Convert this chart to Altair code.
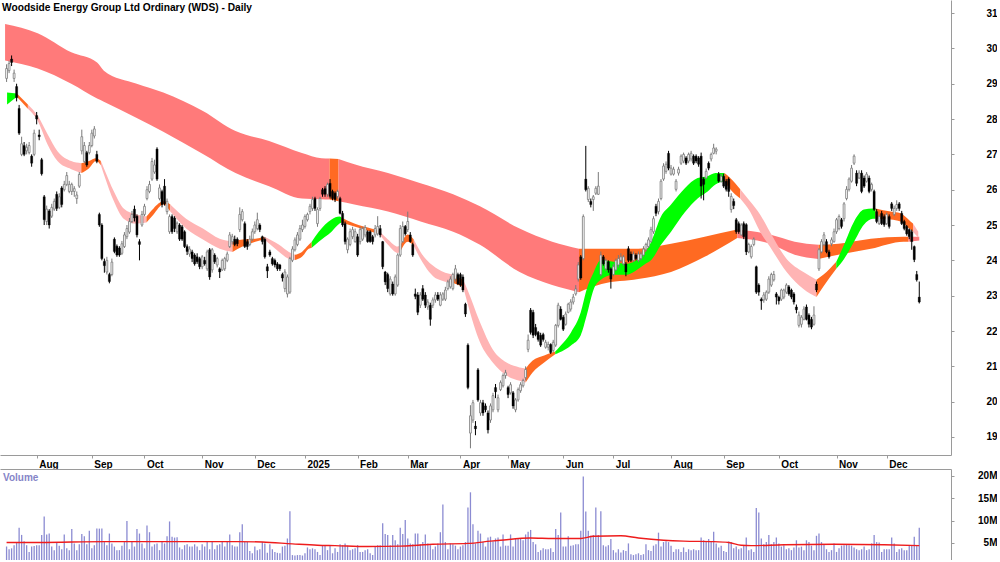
import altair as alt
import pandas as pd

TITLE = "Woodside Energy Group Ltd Ordinary (WDS) - Daily"
MONTH_TICKS = [12, 34, 55, 78, 99, 119, 140, 160, 181, 200, 222, 242, 265, 286, 308, 331, 351]
MONTH_LABELS = ["Aug", "Sep", "Oct", "Nov", "Dec", "2025", "Feb", "Mar", "Apr", "May", "Jun",
                "Jul", "Aug", "Sep", "Oct", "Nov", "Dec"]
PRICE_TICKS = [19, 20, 21, 22, 23, 24, 25, 26, 27, 28, 29, 30, 31]
VOL_TICKS = [5, 10, 15, 20]

OPEN = [
    29.15, 29.37, 29.70, 29.15, 28.92, 28.30, 27.00, 27.25, 27.10, 27.05,
    26.95, 27.00, 28.10, 27.55, 26.85, 25.80, 25.10, 25.40, 25.25, 25.45,
    25.87, 25.50, 26.05, 26.00, 26.15, 25.95, 25.95, 25.95, 25.75, 26.10,
    27.10, 26.80, 27.05, 27.05, 27.25, 27.52, 27.00, 25.30, 25.00, 23.97,
    23.67, 23.60, 23.60, 24.60, 24.40, 24.35, 24.20, 24.39, 24.67, 24.80,
    25.10, 25.45, 25.25, 24.53, 25.00, 25.30, 25.75, 25.95, 26.30, 26.50,
    27.15, 25.75, 25.95, 26.10, 25.38, 24.81, 25.24, 25.20, 24.81, 25.00,
    24.95, 24.81, 24.39, 24.18, 24.24, 24.15, 24.10, 24.05, 23.82, 24.00,
    23.76, 24.30, 23.73, 24.15, 23.87, 23.76, 23.73, 23.76, 24.00, 24.39,
    24.53, 24.60, 24.60, 24.87, 25.15, 25.04, 24.53, 24.45, 24.60, 24.81,
    24.90, 25.00, 24.67, 24.60, 23.82, 24.24, 24.05, 24.00, 23.90, 23.87,
    23.60, 23.20, 23.05, 23.10, 24.00, 24.30, 24.45, 24.60, 24.87, 24.96,
    25.15, 25.38, 25.47, 25.75, 25.04, 25.47, 26.00, 26.03, 25.87, 26.18,
    25.95, 25.90, 25.81, 25.75, 25.33, 25.04, 24.30, 24.45, 24.67, 24.53,
    24.67, 24.53, 24.60, 24.72, 24.81, 24.81, 24.67, 24.72, 24.75, 24.90,
    24.53, 23.67, 23.60, 23.05, 23.33, 23.05, 23.30, 24.15, 24.53, 24.96,
    24.87, 24.72, 24.45, 23.05, 23.02, 22.73, 23.20, 23.02, 22.68, 22.73,
    22.73, 22.88, 23.02, 22.73, 22.90, 22.90, 23.20, 23.25, 23.20, 23.47,
    23.60, 23.60, 23.53, 22.76, 21.60, 19.11, 19.48, 19.31, 20.90, 19.68,
    19.97, 19.88, 19.68, 19.48, 19.77, 20.40, 19.77, 20.34, 20.45, 20.74,
    20.40, 20.25, 20.25, 19.77, 20.05, 20.31, 20.45, 20.68, 21.48, 22.59,
    22.53, 22.10, 21.96, 21.88, 21.90, 21.54, 21.54, 21.62, 21.45, 21.60,
    22.16, 22.62, 22.39, 22.19, 22.53, 22.62, 22.82, 23.05, 23.47, 24.10,
    24.05, 26.30, 25.72, 25.67, 25.72, 25.90, 25.87, 23.60, 24.10, 23.76,
    23.96, 23.76, 23.60, 23.73, 23.87, 24.00, 23.90, 23.90, 24.33, 24.18,
    24.00, 24.15, 24.00, 24.05, 24.15, 24.30, 24.39, 24.53, 24.81, 25.53,
    25.38, 25.75, 26.30, 26.52, 27.03, 26.44, 26.44, 26.01, 26.47, 26.75,
    26.81, 26.90, 26.81, 26.87, 26.95, 26.95, 26.90, 26.95, 26.30, 26.33,
    26.75, 26.87, 27.03, 27.09, 26.44, 26.24, 26.38, 26.24, 26.30, 25.44,
    25.67, 25.15, 25.04, 24.72, 25.04, 25.01, 24.24, 24.10, 24.45, 23.82,
    23.30, 22.90, 22.88, 22.90, 23.10, 23.30, 23.45, 23.05, 22.96, 22.90,
    22.96, 23.10, 23.25, 23.16, 23.05, 22.68, 22.16, 22.19, 22.33, 22.68,
    22.45, 22.33, 22.19, 23.33, 23.76, 24.24, 24.45, 24.53, 24.24, 24.47,
    24.53, 24.81, 24.90, 25.15, 25.18, 25.75, 26.01, 26.24, 26.75, 26.47,
    26.33, 26.47, 26.33, 26.24, 26.33, 26.01, 25.95, 25.38, 25.04, 25.33,
    25.24, 25.04, 25.24, 25.60, 25.30, 25.47, 25.60, 25.33, 25.10, 24.96,
    24.87, 24.81, 24.39, 23.60, 22.96,
]
CLOSE = [
    29.43, 29.57, 29.60, 29.30, 28.60, 27.60, 27.30, 27.00, 27.20, 27.25,
    26.75, 27.60, 28.00, 27.50, 26.45, 25.15, 25.45, 25.00, 25.50, 25.67,
    25.47, 25.80, 25.58, 26.15, 26.40, 26.15, 26.15, 26.03, 25.85, 26.43,
    27.50, 27.25, 26.70, 27.25, 27.60, 27.72, 26.80, 25.00, 24.05, 23.85,
    24.00, 23.40, 23.95, 24.25, 24.15, 24.15, 24.47, 24.72, 24.90, 25.10,
    25.30, 25.20, 24.72, 24.45, 25.30, 25.53, 26.00, 26.15, 26.80, 26.70,
    26.30, 26.05, 25.58, 25.60, 25.67, 25.24, 24.81, 24.90, 25.05, 24.60,
    24.60, 24.39, 24.25, 24.32, 24.05, 23.90, 23.96, 23.82, 24.10, 23.90,
    24.24, 23.53, 24.30, 23.96, 24.05, 23.67, 24.00, 24.05, 24.18, 24.72,
    24.67, 24.45, 24.47, 25.30, 25.38, 24.39, 24.39, 24.60, 24.81, 25.00,
    25.15, 24.87, 24.53, 24.10, 23.70, 24.15, 23.90, 23.87, 23.76, 23.76,
    23.50, 23.67, 23.53, 24.05, 24.32, 24.58, 24.72, 24.90, 25.00, 25.24,
    25.30, 25.53, 25.72, 25.47, 25.44, 25.75, 25.87, 25.87, 26.15, 25.81,
    25.75, 25.72, 25.95, 25.33, 25.00, 24.53, 24.60, 24.81, 24.87, 24.81,
    24.15, 24.87, 24.90, 24.93, 24.53, 24.53, 24.53, 24.90, 24.96, 24.72,
    23.82, 23.39, 23.20, 23.47, 23.05, 23.53, 24.15, 24.90, 24.96, 24.75,
    25.10, 24.53, 24.15, 22.98, 22.53, 23.02, 22.90, 22.73, 22.82, 22.33,
    22.88, 23.02, 22.90, 23.02, 23.05, 23.16, 23.39, 23.47, 23.60, 23.76,
    23.33, 23.30, 23.16, 22.48, 20.40, 19.60, 19.97, 19.23, 20.05, 19.97,
    19.68, 19.77, 19.20, 19.88, 20.17, 20.28, 20.11, 20.54, 20.74, 20.82,
    20.20, 20.48, 19.88, 20.05, 20.34, 20.48, 20.60, 20.91, 21.74, 21.96,
    21.88, 21.90, 21.76, 21.60, 21.76, 21.68, 21.62, 21.39, 21.68, 22.16,
    22.73, 22.33, 22.05, 22.48, 22.76, 22.82, 22.96, 23.19, 23.87, 23.50,
    25.24, 26.00, 26.04, 25.58, 25.80, 26.04, 26.10, 24.15, 23.90, 24.00,
    23.73, 23.47, 23.82, 24.00, 24.05, 24.10, 24.10, 23.67, 24.00, 24.00,
    24.18, 24.05, 24.18, 24.18, 24.32, 24.45, 24.58, 24.87, 25.18, 25.33,
    25.67, 26.24, 26.67, 26.72, 26.61, 26.61, 26.58, 26.24, 26.58, 26.95,
    27.00, 26.75, 27.00, 27.03, 26.75, 26.81, 26.72, 26.10, 26.15, 26.52,
    26.61, 27.00, 27.18, 27.15, 26.24, 26.38, 26.10, 26.01, 25.95, 25.81,
    25.55, 24.81, 24.81, 25.00, 24.67, 24.24, 24.45, 24.39, 24.60, 23.10,
    23.10, 22.85, 23.02, 23.10, 23.47, 23.60, 23.60, 22.96, 22.85, 23.16,
    23.16, 23.30, 23.05, 22.96, 22.82, 22.60, 22.45, 22.39, 22.62, 22.33,
    22.19, 22.11, 22.45, 23.16, 24.30, 24.53, 24.72, 24.24, 24.10, 24.58,
    24.81, 25.15, 25.24, 24.96, 25.60, 26.01, 26.30, 26.61, 26.95, 26.18,
    26.47, 25.95, 26.10, 26.44, 25.95, 26.15, 25.44, 25.10, 25.24, 25.04,
    25.01, 25.30, 24.96, 25.47, 25.47, 25.58, 25.47, 25.04, 24.90, 24.75,
    24.67, 24.53, 24.02, 23.45, 22.82,
]
HIGH = [
    29.55, 29.65, 29.80, 29.40, 29.00, 28.40, 27.50, 27.35, 27.30, 27.35,
    27.00, 27.70, 28.20, 27.70, 26.90, 25.85, 25.55, 25.45, 25.60, 25.75,
    25.95, 25.90, 26.10, 26.25, 26.50, 26.25, 26.20, 26.10, 25.95, 26.50,
    27.70, 27.35, 27.10, 27.35, 27.70, 27.80, 27.10, 25.35, 25.05, 24.05,
    24.10, 23.65, 24.05, 24.65, 24.45, 24.40, 24.55, 24.80, 25.00, 25.20,
    25.40, 25.55, 25.30, 24.60, 25.40, 25.60, 26.10, 26.25, 26.90, 26.85,
    27.20, 26.15, 26.00, 26.30, 25.75, 25.30, 25.30, 25.25, 25.10, 25.05,
    25.00, 24.85, 24.45, 24.40, 24.30, 24.20, 24.20, 24.10, 24.15, 24.10,
    24.30, 24.35, 24.35, 24.20, 24.10, 23.80, 24.05, 24.10, 24.25, 24.80,
    24.75, 24.70, 24.65, 25.50, 25.45, 25.10, 24.60, 24.70, 24.90, 25.10,
    25.35, 25.05, 24.70, 24.65, 23.90, 24.30, 24.10, 24.05, 23.95, 23.90,
    23.65, 23.75, 23.60, 24.10, 24.40, 24.65, 24.80, 25.00, 25.15, 25.30,
    25.35, 25.60, 25.80, 25.80, 25.50, 25.80, 26.05, 26.10, 26.20, 26.30,
    26.00, 25.95, 26.00, 25.80, 25.40, 25.10, 24.65, 24.90, 24.95, 24.90,
    24.75, 24.95, 24.95, 25.00, 24.85, 24.85, 24.72, 25.00, 25.25, 25.00,
    24.55, 23.70, 23.65, 23.55, 23.40, 23.60, 24.20, 25.00, 25.10, 25.00,
    25.38, 24.80, 24.50, 23.20, 23.10, 23.10, 23.30, 23.10, 22.90, 22.80,
    22.95, 23.10, 23.10, 23.10, 23.10, 23.25, 23.45, 23.55, 23.65, 23.87,
    23.65, 23.65, 23.60, 22.80, 21.65, 19.90, 20.05, 19.45, 20.95, 20.05,
    20.05, 19.95, 19.75, 19.95, 20.25, 20.50, 20.20, 20.60, 20.80, 20.90,
    20.45, 20.55, 20.30, 20.10, 20.40, 20.55, 20.65, 21.00, 21.90, 22.65,
    22.60, 22.20, 22.00, 21.95, 21.95, 21.75, 21.70, 21.65, 21.75, 22.20,
    22.80, 22.70, 22.45, 22.55, 22.80, 22.90, 23.05, 23.30, 23.95, 24.15,
    25.30, 27.24, 26.10, 25.75, 25.85, 26.10, 26.50, 24.25, 24.15, 24.05,
    24.00, 23.80, 23.90, 24.05, 24.15, 24.20, 24.15, 23.95, 24.40, 24.25,
    24.25, 24.20, 24.25, 24.25, 24.40, 24.50, 24.65, 24.95, 25.25, 25.60,
    25.75, 26.30, 26.75, 26.80, 27.10, 26.70, 26.65, 26.30, 26.65, 27.00,
    27.05, 26.95, 27.05, 27.10, 27.00, 27.00, 26.95, 27.05, 26.35, 26.60,
    26.80, 27.05, 27.30, 27.20, 26.50, 26.45, 26.45, 26.30, 26.35, 25.90,
    25.75, 25.20, 25.10, 25.05, 25.10, 25.05, 24.50, 24.45, 24.65, 23.85,
    23.35, 22.95, 23.10, 23.15, 23.55, 23.65, 23.70, 23.10, 23.00, 23.20,
    23.20, 23.35, 23.30, 23.20, 23.10, 22.75, 22.55, 22.45, 22.70, 22.75,
    22.50, 22.40, 22.70, 23.40, 24.35, 24.60, 24.80, 24.60, 24.30, 24.65,
    24.90, 25.20, 25.30, 25.20, 25.65, 26.10, 26.35, 26.70, 27.00, 26.55,
    26.55, 26.55, 26.40, 26.50, 26.40, 26.20, 26.00, 25.45, 25.30, 25.40,
    25.30, 25.35, 25.30, 25.65, 25.55, 25.70, 25.65, 25.40, 25.15, 25.00,
    24.90, 24.87, 24.42, 23.70, 23.40,
]
LOW = [
    29.05, 29.30, 29.50, 29.05, 28.50, 27.55, 26.95, 26.95, 27.00, 27.00,
    26.65, 26.95, 27.85, 27.40, 26.40, 25.00, 25.00, 24.90, 25.20, 25.40,
    25.40, 25.45, 25.50, 25.95, 26.10, 25.90, 25.85, 25.80, 25.60, 26.05,
    27.00, 26.75, 26.65, 27.00, 27.20, 27.45, 26.75, 24.95, 24.00, 23.65,
    23.60, 23.35, 23.55, 24.20, 24.10, 24.10, 24.15, 24.35, 24.60, 24.75,
    25.05, 25.10, 24.65, 24.00, 24.95, 25.25, 25.70, 25.90, 26.25, 26.45,
    26.25, 25.70, 25.50, 25.55, 25.30, 24.75, 24.75, 24.80, 24.75, 24.55,
    24.55, 24.35, 24.15, 24.10, 23.95, 23.85, 23.90, 23.75, 23.75, 23.85,
    23.70, 23.45, 23.65, 23.90, 23.80, 23.50, 23.70, 23.70, 23.95, 24.35,
    24.45, 24.40, 24.40, 24.80, 25.10, 24.35, 24.30, 24.40, 24.55, 24.75,
    24.85, 24.80, 24.45, 24.05, 23.50, 24.10, 23.85, 23.80, 23.70, 23.70,
    23.40, 23.10, 22.95, 23.05, 23.95, 24.25, 24.40, 24.55, 24.80, 24.90,
    25.10, 25.30, 25.40, 25.40, 24.95, 25.40, 25.80, 25.80, 25.80, 25.75,
    25.70, 25.65, 25.75, 25.30, 24.95, 24.45, 24.20, 24.40, 24.60, 24.50,
    24.10, 24.45, 24.55, 24.65, 24.50, 24.50, 24.45, 24.65, 24.70, 24.65,
    23.75, 23.30, 23.10, 23.00, 23.00, 23.00, 23.25, 24.10, 24.50, 24.70,
    24.80, 24.50, 24.10, 22.90, 22.45, 22.65, 22.85, 22.65, 22.60, 22.15,
    22.65, 22.80, 22.85, 22.70, 22.85, 22.85, 23.15, 23.20, 23.15, 23.40,
    23.30, 23.25, 23.10, 22.40, 20.35, 18.68, 19.40, 19.05, 20.00, 19.60,
    19.60, 19.70, 19.10, 19.40, 19.70, 20.10, 19.70, 20.30, 20.40, 20.65,
    20.10, 20.20, 19.80, 19.70, 20.00, 20.25, 20.40, 20.60, 21.40, 21.90,
    21.80, 21.85, 21.70, 21.55, 21.70, 21.50, 21.45, 21.35, 21.40, 21.55,
    22.10, 22.30, 22.00, 22.15, 22.50, 22.55, 22.75, 23.00, 23.40, 23.45,
    24.00, 25.95, 25.65, 25.50, 25.40, 25.85, 25.85, 23.55, 23.85, 23.70,
    23.65, 23.20, 23.55, 23.70, 23.80, 23.95, 23.85, 23.55, 23.95, 23.95,
    23.95, 24.00, 23.95, 24.00, 24.10, 24.25, 24.35, 24.50, 24.75, 25.25,
    25.30, 25.70, 26.25, 26.45, 26.55, 26.40, 26.40, 25.95, 26.40, 26.70,
    26.75, 26.70, 26.75, 26.80, 26.70, 26.75, 26.65, 25.75, 25.70, 26.30,
    26.55, 26.80, 27.00, 27.00, 26.20, 26.20, 26.05, 25.95, 25.80, 25.35,
    25.45, 24.75, 24.75, 24.70, 24.60, 24.15, 24.20, 24.05, 24.40, 23.05,
    23.00, 22.60, 22.80, 22.85, 23.05, 23.25, 23.40, 22.75, 22.75, 22.85,
    22.90, 23.05, 23.00, 22.90, 22.75, 22.50, 22.10, 22.10, 22.30, 22.30,
    22.10, 22.05, 22.15, 23.10, 23.70, 24.20, 24.40, 24.20, 24.05, 24.40,
    24.50, 24.75, 24.85, 24.90, 25.10, 25.70, 25.95, 26.20, 26.70, 26.10,
    26.30, 25.90, 26.05, 26.20, 25.90, 25.95, 25.40, 25.05, 25.00, 25.00,
    24.95, 25.00, 24.90, 25.40, 25.25, 25.40, 25.40, 25.00, 24.85, 24.70,
    24.60, 24.30, 23.95, 23.40, 22.78,
]
# Daily volume, millions of shares
VOLUME = [
    4.2, 3.6, 3.8, 4.5, 5.2, 8.4, 6.8, 5.4, 4.5, 3.0,
    4.2, 4.3, 4.5, 4.5, 6.8, 10.9, 6.9, 7.1, 4.2, 3.4,
    5.2, 4.4, 3.6, 6.9, 3.8, 3.4, 8.1, 4.9, 3.4, 4.7,
    7.0, 6.5, 4.7, 7.7, 3.8, 4.5, 8.2, 8.2, 8.2, 5.2,
    4.5, 7.1, 4.9, 4.2, 3.4, 3.4, 4.4, 5.2, 9.9, 3.6,
    5.2, 4.2, 8.1, 7.1, 4.9, 3.8, 8.9, 7.4, 4.2, 4.7,
    4.9, 3.4, 5.2, 4.9, 6.5, 9.8, 6.4, 6.2, 6.3, 4.0,
    3.6, 4.5, 4.7, 4.2, 4.2, 4.7, 4.2, 3.4, 4.7, 4.2,
    5.4, 3.6, 5.4, 3.6, 4.5, 4.7, 5.4, 4.2, 5.4, 6.9,
    4.5, 4.2, 4.2, 7.4, 9.2, 5.2, 5.2, 3.2, 2.7, 4.2,
    3.4, 3.6, 5.2, 4.9, 2.8, 4.7, 3.6, 3.0, 2.8, 2.7,
    4.2, 4.4, 6.0, 12.1, 2.3, 2.2, 2.3, 2.3, 2.2, 2.7,
    4.0, 3.6, 3.8, 3.6, 3.0, 2.3, 4.4, 4.4, 3.4, 4.4,
    2.7, 3.8, 3.0, 4.7, 4.5, 4.9, 4.4, 3.4, 3.6, 3.8,
    4.5, 3.0, 3.0, 3.4, 3.6, 2.7, 2.3, 4.2, 4.5, 4.5,
    9.4, 7.0, 6.8, 4.5, 6.8, 5.6, 4.7, 8.4, 7.0, 10.1,
    6.0, 4.9, 4.7, 7.1, 7.1, 4.7, 5.2, 6.9, 4.9, 4.5,
    3.6, 4.2, 4.9, 7.4, 13.6, 5.2, 3.6, 4.9, 4.7, 4.4,
    3.6, 4.2, 4.5, 5.2, 12.9, 16.3, 9.2, 4.9, 7.7, 7.1,
    5.2, 4.2, 6.2, 6.4, 5.4, 6.0, 6.2, 4.2, 6.9, 4.4,
    4.4, 6.9, 4.2, 6.0, 6.0, 6.0, 5.6, 6.9, 7.5, 7.9,
    5.2, 4.7, 3.0, 3.4, 3.8, 3.6, 3.6, 3.8, 3.0, 8.1,
    6.8, 11.8, 4.2, 4.2, 6.5, 4.4, 4.5, 4.7, 4.7, 7.7,
    19.8, 12.0, 7.7, 6.6, 6.8, 12.9, 6.8, 12.1, 4.5, 4.2,
    4.5, 5.9, 3.4, 2.9, 3.6, 2.9, 3.4, 3.2, 4.9, 2.5,
    2.3, 2.5, 2.7, 2.3, 2.5, 4.7, 3.4, 3.2, 4.4, 4.7,
    7.3, 4.2, 5.2, 5.4, 5.2, 4.4, 3.0, 3.6, 3.6, 3.0,
    4.0, 3.0, 3.6, 3.4, 3.6, 3.4, 3.4, 6.2, 5.6, 5.4,
    5.9, 5.2, 7.5, 4.9, 4.0, 4.4, 3.2, 3.0, 5.3, 5.2,
    3.8, 4.2, 3.6, 3.8, 4.4, 6.2, 3.4, 3.6, 3.0, 12.8,
    11.8, 6.0, 4.7, 5.2, 6.8, 4.7, 5.2, 6.2, 4.9, 4.2,
    4.5, 3.6, 3.8, 3.4, 4.0, 5.6, 4.0, 4.2, 3.4, 5.6,
    5.2, 4.4, 3.4, 6.6, 7.1, 5.2, 4.7, 3.6, 3.0, 3.4,
    4.9, 3.0, 3.8, 4.4, 4.5, 4.7, 4.5, 4.4, 4.0, 3.6,
    3.4, 3.6, 4.2, 3.4, 3.6, 4.9, 6.8, 5.2, 5.1, 3.0,
    3.6, 3.6, 3.6, 6.2, 4.9, 3.0, 3.6, 3.8, 3.4, 3.4,
    4.4, 4.5, 6.4, 4.5, 8.4,
]
VOL_MA_X = [0, 13, 39, 65, 92, 102, 114, 124, 131, 144, 157, 164, 170, 184, 193, 197,
            209, 218, 229, 234, 245, 252, 262, 270, 282, 288, 293, 297, 310, 330, 350, 364]
VOL_MA = [5.1, 5.1, 5.3, 5.3, 5.3, 5.2, 4.8, 4.5, 4.4, 4.2, 4.3, 4.5, 4.7, 4.9, 5.4, 5.6,
          6.1, 6.0, 6.0, 6.5, 6.6, 6.1, 5.6, 5.4, 5.3, 5.1, 4.5, 4.4, 4.6, 4.7, 4.6, 4.4]

# Long-term moving-average ribbon (edges)
LONG_X = [-0.6, 12.4, 25.8, 36.1, 38.8, 51.9, 62.5, 78.3, 91.3, 104.7, 117.8, 125.6,
          128.8, 132.4, 138.7, 152.1, 165.1, 178.1, 188.8, 204.6, 217.6, 228.3, 237.3,
          251.9, 265.0, 278.4, 291.4, 304.4, 314.3, 323.8, 331.7, 344.7, 357.7, 359.7, 364.0]
LONG_TOP = [30.69, 30.43, 29.89, 29.60, 29.37, 29.00, 28.75, 28.23, 27.66, 27.38, 27.04, 26.89,
            26.88, 26.87, 26.72, 26.47, 26.18, 25.87, 25.53, 24.90, 24.53, 24.33, 24.33,
            24.33, 24.47, 24.67, 24.87, 24.73, 24.53, 24.44, 24.47, 24.61, 24.67, 24.67, 24.67]
LONG_BOT = [29.66, 29.43, 29.00, 28.58, 28.49, 28.03, 27.64, 27.01, 26.47, 26.10, 25.75, 25.73,
            25.72, 25.67, 25.58, 25.38, 25.10, 24.81, 24.44, 23.67, 23.30, 23.10, 23.33,
            23.47, 23.67, 24.10, 24.63, 24.47, 24.16, 24.04, 24.16, 24.33, 24.53, 24.53, 24.56]
LONG_BREAK_AT = [-0.6, 128.8, 132.4, 228.3, 291.4, 323.8, 359.7]
LONG_BREAK_STATE = ["down", "mix", "down", "mix", "down", "mix", "down"]

# Short-term moving-average ribbon
SHORT_X = [0.2, 4.1, 8.5, 12.4, 16.3, 20.3, 25.8, 29.8, 32.9, 35.7, 37.6, 38.8, 42.8, 46.7,
           51.9, 55.8, 58.6, 62.5, 65.3, 71.6, 78.3, 85.0, 90.1, 94.1, 99.2, 102.8, 108.7,
           112.6, 115.0, 117.8, 120.5, 121.7, 124.5, 129.6, 132.8, 133.5, 138.7, 145.4, 148.5,
           152.1, 156.0, 157.2, 160.0, 162.4, 165.1, 171.8, 178.1, 182.1, 183.7, 188.8, 193.9,
           199.4, 204.6, 207.0, 209.7, 214.4, 218.8, 220.4, 225.1, 229.0, 231.4, 234.2, 237.0,
           242.1, 246.8, 254.7, 257.1, 261.0, 265.0, 270.5, 275.6, 279.6, 282.7, 286.3, 288.6,
           292.6, 296.5, 300.5, 304.4, 311.1, 317.8, 323.0, 325.7, 330.9, 334.0, 338.0, 341.9,
           345.5, 346.6, 352.6, 356.5, 360.5, 361.5, 363.6]
SHORT_TOP = [28.75, 28.72, 28.41, 28.09, 27.58, 27.09, 26.81, 26.75, 26.81, 26.89, 26.81, 26.61,
             25.95, 25.47, 25.30, 25.24, 25.47, 25.67, 25.58, 25.18, 24.90, 24.61, 24.53, 24.59,
             24.61, 24.67, 24.44, 24.24, 24.16, 24.24, 24.44, 24.53, 24.81, 25.16, 25.24, 25.21,
             25.04, 24.90, 24.84, 24.59, 24.39, 24.44, 24.73, 24.59, 24.24, 23.76, 23.59, 23.45,
             23.19, 22.25, 21.48, 21.11, 20.97, 20.94, 21.16, 21.31, 21.42, 21.54, 21.96, 22.53,
             23.19, 23.67, 24.01, 23.96, 23.90, 24.24, 24.53, 25.24, 25.58, 26.04, 26.33, 26.38,
             26.47, 26.47, 26.33, 26.01, 25.67, 25.30, 24.81, 24.04, 23.67, 23.45, 23.59, 23.96,
             24.44, 25.10, 25.44, 25.47, 25.47, 25.38, 25.33, 25.10, 25.04, 24.81]
SHORT_BOT = [28.41, 28.63, 28.29, 27.95, 27.29, 26.81, 26.58, 26.47, 26.61, 26.81, 26.69, 26.44,
             25.67, 25.18, 25.04, 25.07, 25.30, 25.58, 25.38, 24.90, 24.59, 24.33, 24.24, 24.39,
             24.53, 24.59, 24.24, 24.04, 24.01, 24.10, 24.33, 24.36, 24.53, 24.81, 25.04, 25.07,
             24.96, 24.81, 24.76, 24.44, 24.21, 24.27, 24.53, 24.41, 24.04, 23.47, 23.36, 23.25,
             22.82, 21.68, 21.11, 20.74, 20.59, 20.54, 20.82, 21.11, 21.34, 21.39, 21.59, 21.88,
             22.45, 23.19, 23.45, 23.59, 23.59, 23.90, 24.01, 24.44, 24.81, 25.36, 25.75, 25.95,
             26.15, 26.24, 26.01, 25.75, 25.38, 24.81, 24.39, 23.67, 23.19, 22.96, 23.25, 23.76,
             24.04, 24.53, 25.01, 25.18, 25.18, 25.16, 25.10, 24.87, 24.81, 24.64]
SHORT_BREAK_AT = [0.2, 4.1, 8.5, 29.8, 37.6, 55.8, 65.3, 90.1, 102.8, 115.0, 121.7, 133.5,
                  148.5, 157.2, 162.4, 178.1, 182.1, 207.0, 218.8, 286.3, 292.6, 323.0,
                  330.9, 346.6, 361.5]
SHORT_BREAK_STATE = ["up", "mix", "down", "mix", "down", "mix", "down", "mix", "down", "mix",
                     "up", "mix", "down", "mix", "down", "mix", "down", "mix", "up", "mix",
                     "down", "mix", "up", "mix", "down"]

X_MIN, X_MAX = -0.63, 374.66
P_MIN, P_MAX = 18.49, 31.37
V_MIN, V_MAX = 1.2, 21.5
FONT = "Liberation Sans"
GRAY = "#9a9a9a"
BAND_STATES = ["L-down", "L-mix", "S-down", "S-mix", "S-up"]
BAND_COLORS = ["#ff7a7a", "#ff6a22", "#ffb4b4", "#ff6a22", "#00ff00"]


def build_band(xs, tops, bots, break_at, break_state, prefix):
    rows = []
    ends = list(break_at[1:]) + [xs[-1]]
    for k, (start, end, state) in enumerate(zip(break_at, ends, break_state)):
        for x, t, b in zip(xs, tops, bots):
            if start - 1e-9 <= x <= end + 1e-9:
                rows.append({"i": x, "top": t, "bot": b, "seg": f"{prefix}{k}",
                             "state": f"{prefix}-{state}"})
    return rows


band_rows = build_band(LONG_X, LONG_TOP, LONG_BOT, LONG_BREAK_AT, LONG_BREAK_STATE, "L")
band_rows += build_band(SHORT_X, SHORT_TOP, SHORT_BOT, SHORT_BREAK_AT, SHORT_BREAK_STATE, "S")
band_df = pd.DataFrame(band_rows)

candles = pd.DataFrame({"i": list(range(len(CLOSE))), "o": OPEN, "h": HIGH, "l": LOW, "c": CLOSE})
candles["dir"] = ["up" if c >= o else "down" for o, c in zip(OPEN, CLOSE)]
vol_df = pd.DataFrame({"i": list(range(len(VOLUME))), "v": VOLUME})
vma_df = pd.DataFrame({"i": VOL_MA_X, "v": VOL_MA})

label_expr = "[" + ",".join(f"'{m}'" for m in MONTH_LABELS) + "][indexof([" + \
    ",".join(str(t) for t in MONTH_TICKS) + "], datum.value)]"

xscale = alt.Scale(domain=[X_MIN, X_MAX], nice=False, zero=False)
x_axis = alt.Axis(values=MONTH_TICKS, labelExpr=label_expr, labelAlign="left", labelOffset=2,
                  labelBaseline="top", labelPadding=1, labelFlush=False, labelOverlap=False,
                  tickSize=3, tickColor=GRAY, domainColor=GRAY, grid=False, title=None)
X = alt.X("i:Q", scale=xscale, axis=x_axis)

pscale = alt.Scale(domain=[P_MIN, P_MAX], nice=False, zero=False)
p_axis = alt.Axis(orient="right", values=PRICE_TICKS, labelAlign="right", labelPadding=43,
                  labelOverlap=False, labelFlush=False, tickSize=3, tickColor=GRAY,
                  domainColor=GRAY, grid=False, title=None)


def band_layer(prefix):
    # one area per coloured segment; long ribbon first, short ribbon drawn over it
    return alt.Chart(band_df).transform_filter(
        f"indexof(datum.seg, '{prefix}') == 0"
    ).mark_area(interpolate="monotone", clip=True).encode(
        x=X,
        y=alt.Y("top:Q", scale=pscale, axis=p_axis),
        y2="bot:Q",
        color=alt.Color("state:N", scale=alt.Scale(domain=BAND_STATES, range=BAND_COLORS),
                        legend=None),
        detail="seg:N",
    )


long_area = band_layer("L")
short_area = band_layer("S")

base = alt.Chart(candles)
wick_up = base.transform_filter("datum.dir == 'up'").mark_rule(color="#7a7a7a", strokeWidth=1).encode(
    x=X, y=alt.Y("l:Q", scale=pscale, axis=p_axis), y2="h:Q")
wick_dn = base.transform_filter("datum.dir == 'down'").mark_rule(color="#000000", strokeWidth=1).encode(
    x=X, y=alt.Y("l:Q", scale=pscale, axis=p_axis), y2="h:Q")
body_up = base.transform_filter("datum.dir == 'up'").mark_bar(
    size=1.8, fill="#ffffff", stroke="#7a7a7a", strokeWidth=0.8).encode(
    x=X, y=alt.Y("o:Q", scale=pscale, axis=p_axis), y2="c:Q")
body_dn = base.transform_filter("datum.dir == 'down'").mark_bar(
    size=2.2, fill="#000000", stroke="#000000", strokeWidth=0.3).encode(
    x=X, y=alt.Y("o:Q", scale=pscale, axis=p_axis), y2="c:Q")

title_text = alt.Chart(pd.DataFrame({"t": [TITLE]})).mark_text(
    align="left", baseline="middle", font=FONT, fontSize=10.2, fontWeight="bold", color="#000000"
).encode(x=alt.value(2), y=alt.value(8), text="t:N")

price = alt.layer(long_area, short_area, wick_up, wick_dn, body_up, body_dn, title_text).properties(
    width=951, height=455)

vx_axis = alt.Axis(orient="top", labels=False, ticks=False, domain=True, domainColor=GRAY,
                   grid=False, title=None)
VX = alt.X("i:Q", scale=xscale, axis=vx_axis)
vscale = alt.Scale(domain=[V_MIN, V_MAX], nice=False, zero=False)
v_axis = alt.Axis(orient="right", values=VOL_TICKS, labelExpr="datum.value + 'M'",
                  labelAlign="right", labelPadding=43, labelOverlap=False, labelFlush=False,
                  tickSize=3, tickColor=GRAY, domainColor=GRAY, grid=False, title=None)

vbars = alt.Chart(vol_df).mark_bar(size=1.3, color="#8b8bd2", clip=True).encode(
    x=VX, y=alt.Y("v:Q", scale=vscale, axis=v_axis), y2=alt.datum(V_MIN))
vma = alt.Chart(vma_df).mark_line(color="#ee1c1c", strokeWidth=1.4, interpolate="monotone").encode(
    x=VX, y=alt.Y("v:Q", scale=vscale, axis=v_axis))
vtext = alt.Chart(pd.DataFrame({"t": ["Volume"]})).mark_text(
    align="left", baseline="middle", font=FONT, fontSize=10, fontWeight="bold", color="#8585c8"
).encode(x=alt.value(3), y=alt.value(9), text="t:N")

volume = alt.layer(vbars, vma, vtext).properties(width=951, height=91)

chart = alt.vconcat(price, volume, spacing=0).properties(
    padding=0, background="#ffffff"
).configure_view(stroke=None).configure_axis(
    labelFont=FONT, labelFontSize=10, labelFontWeight="bold", labelColor="#000000"
)

chart.save("out.html", embed_options={"renderer": "svg", "actions": False})
